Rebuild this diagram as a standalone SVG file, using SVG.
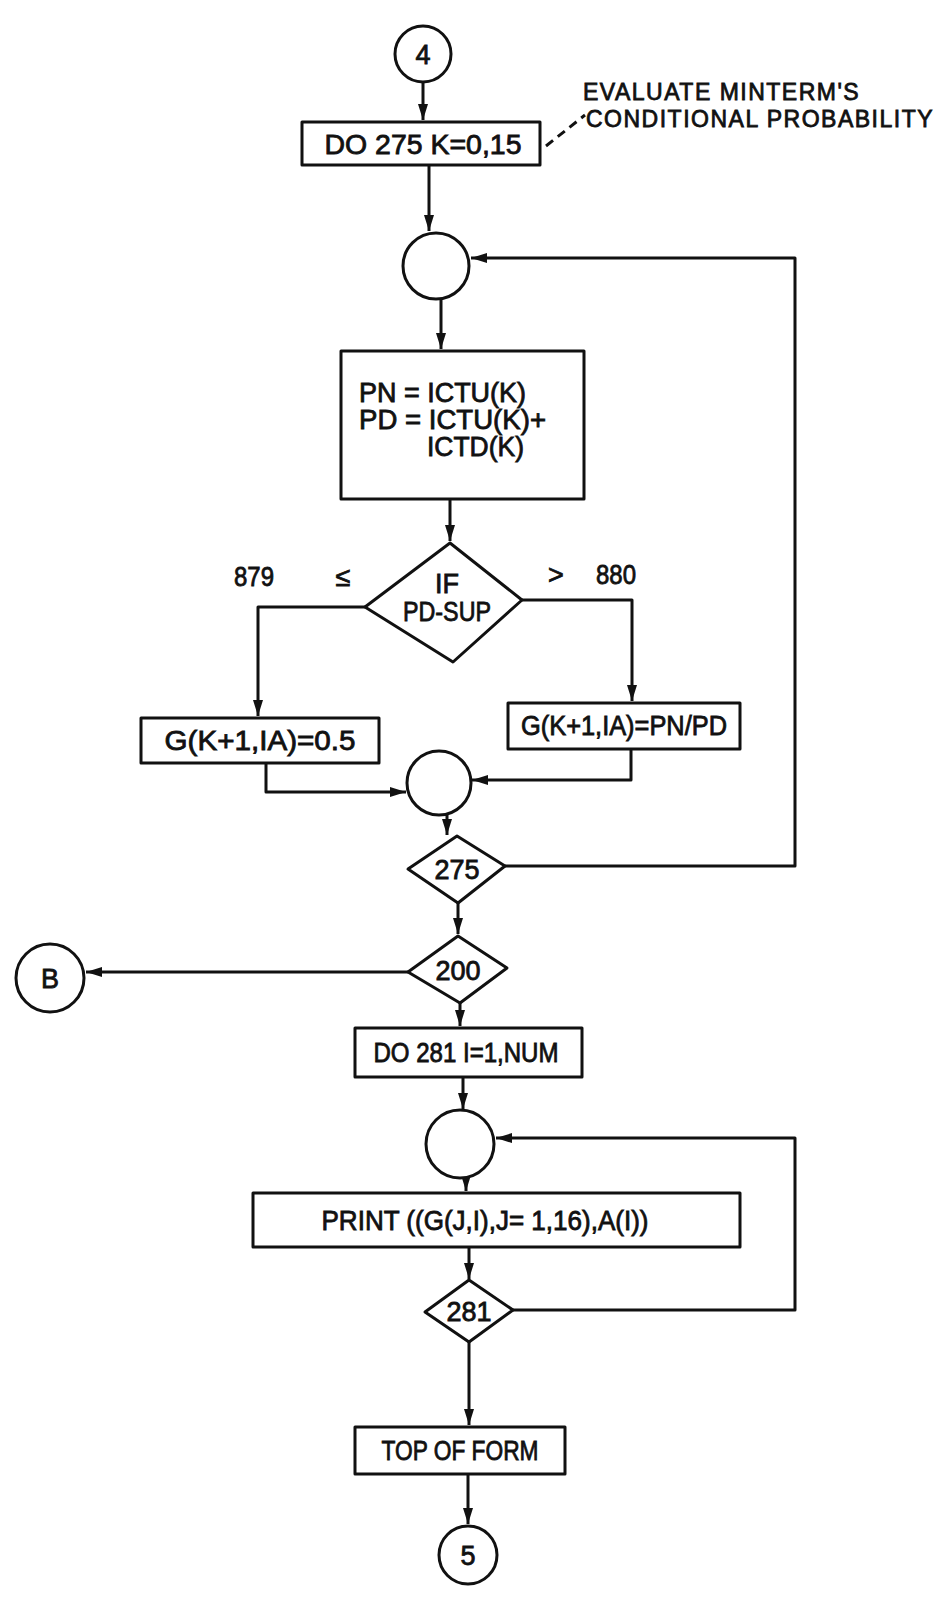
<svg xmlns="http://www.w3.org/2000/svg" width="950" height="1615" viewBox="0 0 950 1615">
<style>
.s{fill:none;stroke:#111;stroke-width:3;stroke-linejoin:round}
.n{fill:#fff;stroke:#111;stroke-width:3;stroke-linejoin:round}
.t{font-family:"Liberation Sans",Arial,sans-serif;font-size:27px;fill:#111;stroke:#111;stroke-width:0.8}
.m{text-anchor:middle}
.a{font-size:23px;letter-spacing:1.5px;stroke-width:0.8}
</style>
<defs>
<marker id="ah" markerUnits="userSpaceOnUse" markerWidth="18" markerHeight="12" refX="16" refY="5" orient="auto">
<path d="M0,0 L16,5 L0,10 z" fill="#111"/>
</marker>
</defs>
<rect width="950" height="1615" fill="#fff"/>
<g id="connectors">
<path class="s" d="M423,82 V120" marker-end="url(#ah)"/>
<path class="s" d="M429,165 V231" marker-end="url(#ah)"/>
<path class="s" d="M441,299 V349" marker-end="url(#ah)"/>
<path class="s" d="M450,499 V541" marker-end="url(#ah)"/>
<path class="s" d="M365,607 H258 V716" marker-end="url(#ah)"/>
<path class="s" d="M522,600 H632 V701" marker-end="url(#ah)"/>
<path class="s" d="M266,763 V792 H406" marker-end="url(#ah)"/>
<path class="s" d="M631,749 V780 H472" marker-end="url(#ah)"/>
<path class="s" d="M447,815 V835" marker-end="url(#ah)"/>
<path class="s" d="M505,866 H795 V258 H471" marker-end="url(#ah)"/>
<path class="s" d="M458,903 V934" marker-end="url(#ah)"/>
<path class="s" d="M408,972 H86" marker-end="url(#ah)"/>
<path class="s" d="M460,1003 V1026" marker-end="url(#ah)"/>
<path class="s" d="M463,1077 V1109" marker-end="url(#ah)"/>
<path class="s" d="M466,1178 V1191" marker-end="url(#ah)"/>
<path class="s" d="M513,1310 H795 V1138 H496" marker-end="url(#ah)"/>
<path class="s" d="M469,1247 V1279" marker-end="url(#ah)"/>
<path class="s" d="M469,1342 V1425" marker-end="url(#ah)"/>
<path class="s" d="M468,1474 V1524" marker-end="url(#ah)"/>
<path class="s" d="M546,146 L585,115" stroke-dasharray="9,6"/>
</g>
<g id="c4">
<circle class="n" cx="423" cy="54" r="28"/>
<text class="t m" x="423" y="64" font-size="26">4</text>
</g>
<g id="note">
<text class="t a" x="583" y="100">EVALUATE MINTERM'S</text>
<text class="t a" x="586" y="127">CONDITIONAL PROBABILITY</text>
</g>
<g id="do275">
<rect class="n" x="302" y="122" width="238" height="43"/>
<text class="t m" x="423" y="154" textLength="197" lengthAdjust="spacingAndGlyphs">DO 275 K=0,15</text>
</g>
<g id="j1">
<circle class="n" cx="436" cy="266" r="33"/>
</g>
<g id="pn">
<rect class="n" x="341" y="351" width="243" height="148"/>
<text class="t" x="359" y="402" textLength="167" lengthAdjust="spacingAndGlyphs">PN = ICTU(K)</text>
<text class="t" x="359" y="429" textLength="187" lengthAdjust="spacingAndGlyphs">PD = ICTU(K)+</text>
<text class="t" x="427" y="456" textLength="97" lengthAdjust="spacingAndGlyphs">ICTD(K)</text>
</g>
<g id="ifpd">
<path class="n" d="M450,543 L522,600 L453,662 L365,607 Z"/>
<text class="t m" x="447" y="593" font-size="26">IF</text>
<text class="t m" x="447" y="621" font-size="26" textLength="88" lengthAdjust="spacingAndGlyphs">PD-SUP</text>
</g>
<g id="labels">
<text class="t m" x="254" y="586" font-size="25" textLength="40" lengthAdjust="spacingAndGlyphs">879</text>
<text class="t m" x="343" y="586" font-size="25">≤</text>
<text class="t m" x="556" y="584" font-size="25">&gt;</text>
<text class="t m" x="616" y="584" font-size="25" textLength="40" lengthAdjust="spacingAndGlyphs">880</text>
</g>
<g id="g05">
<rect class="n" x="141" y="718" width="238" height="45"/>
<text class="t m" x="260" y="750" textLength="191" lengthAdjust="spacingAndGlyphs">G(K+1,IA)=0.5</text>
</g>
<g id="gpnpd">
<rect class="n" x="508" y="703" width="232" height="46"/>
<text class="t m" x="624" y="735" textLength="206" lengthAdjust="spacingAndGlyphs">G(K+1,IA)=PN/PD</text>
</g>
<g id="j2">
<circle class="n" cx="439" cy="783" r="32"/>
</g>
<g id="d275">
<path class="n" d="M457,836 L505,866 L458,903 L408,869 Z"/>
<text class="t m" x="457" y="879" font-size="25">275</text>
</g>
<g id="d200">
<path class="n" d="M458,936 L507,968 L460,1003 L408,972 Z"/>
<text class="t m" x="458" y="980" font-size="25">200</text>
</g>
<g id="cB">
<circle class="n" cx="50" cy="978" r="34"/>
<text class="t m" x="50" y="988" font-size="26">B</text>
</g>
<g id="do281">
<rect class="n" x="355" y="1028" width="227" height="49"/>
<text class="t m" x="466" y="1062" textLength="185" lengthAdjust="spacingAndGlyphs">DO 281 I=1,NUM</text>
</g>
<g id="j3">
<circle class="n" cx="460" cy="1144" r="34"/>
</g>
<g id="print">
<rect class="n" x="253" y="1193" width="487" height="54"/>
<text class="t m" x="485" y="1230" textLength="327" lengthAdjust="spacingAndGlyphs">PRINT ((G(J,I),J= 1,16),A(I))</text>
</g>
<g id="d281">
<path class="n" d="M469,1280 L513,1310 L469,1342 L425,1312 Z"/>
<text class="t m" x="469" y="1321" font-size="25">281</text>
</g>
<g id="tof">
<rect class="n" x="355" y="1427" width="210" height="47"/>
<text class="t m" x="460" y="1460" textLength="157" lengthAdjust="spacingAndGlyphs">TOP OF FORM</text>
</g>
<g id="c5">
<circle class="n" cx="468" cy="1555" r="29"/>
<text class="t m" x="468" y="1565" font-size="26">5</text>
</g>
</svg>
